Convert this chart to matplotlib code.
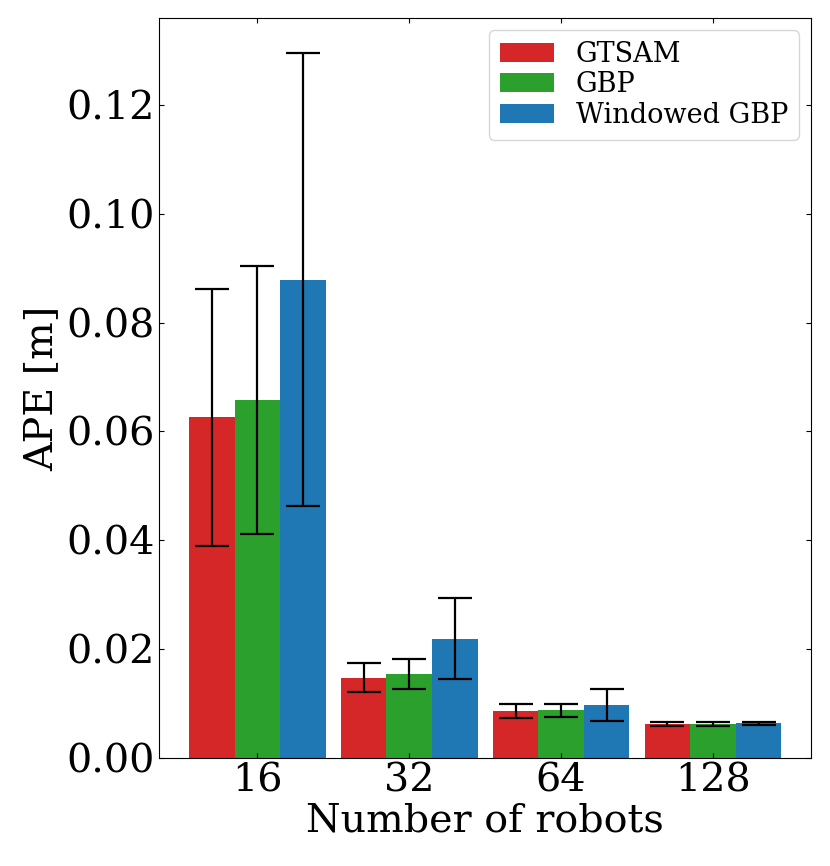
import numpy as np
import matplotlib.pyplot as plt

robots = ['16', '32', '64', '128']
methods = ['GTSAM', 'GBP', 'Windowed GBP']
colors = ['tab:red', 'tab:green', 'tab:blue']

gtsam_mean = [0.0626, 0.0147, 0.0086, 0.0062]
gtsam_std = [0.0236, 0.0027, 0.0012, 0.0003]
gbp_mean = [0.0658, 0.0154, 0.0087, 0.0062]
gbp_std = [0.0246, 0.0028, 0.0012, 0.0003]
wgbp_mean = [0.0879, 0.0219, 0.0097, 0.0063]
wgbp_std = [0.0416, 0.0075, 0.0029, 0.0003]

means = [gtsam_mean, gbp_mean, wgbp_mean]
stds = [gtsam_std, gbp_std, wgbp_std]

plt.rcParams['font.family'] = 'DejaVu Serif'

fig, ax = plt.subplots(figsize=(8.3, 8.66), dpi=100)
x = np.arange(len(robots))
width = 0.3

for i, (m, s) in enumerate(zip(means, stds)):
    ax.bar(x + (i - 1) * width, m, width, yerr=s, color=colors[i], label=methods[i],
           capsize=12, error_kw={'elinewidth': 1.6, 'capthick': 1.6})

ax.set_xticks(x)
ax.set_xticklabels(robots)
ax.set_xlabel('Number of robots', fontsize=28.5, labelpad=2)
ax.set_ylabel('APE [m]', fontsize=28.5)
ax.tick_params(axis='both', which='both', direction='in', top=True, right=True, labelsize=28.5)
ax.legend(loc='upper right', fontsize=19.5, labelspacing=0.12, borderaxespad=0.45)

plt.subplots_adjust(left=0.192, right=0.977, top=0.979, bottom=0.125)
plt.savefig('out.png')
